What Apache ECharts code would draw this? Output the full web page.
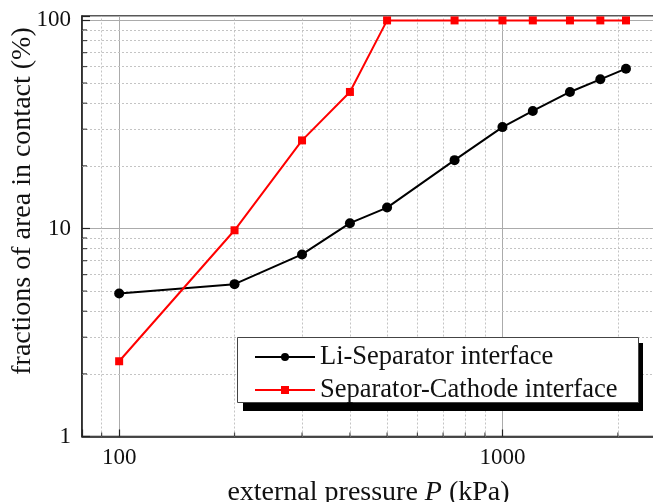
<!DOCTYPE html>
<html>
<head>
<meta charset="utf-8">
<script src="https://cdn.jsdelivr.net/npm/echarts@6/dist/echarts.min.js"></script>
<style>
  html, body { margin: 0; padding: 0; background: #fff; }
  #chart { width: 653px; height: 502px; }
</style>
</head>
<body>
<div id="chart"></div>
<script>
// External pressure (kPa)
const pressure = [100, 200, 300, 400, 500, 750, 1000, 1200, 1500, 1800, 2100];
// Fraction of area in contact (%)
const liSeparator = [4.87, 5.4, 7.5, 10.6, 12.6, 21.3, 30.7, 36.7, 45.3, 52.1, 58.6];
const separatorCathode = [2.3, 9.8, 26.5, 45.3, 100, 100, 100, 100, 100, 100, 100];

const seriesNames = ['Li-Separator interface', 'Separator-Cathode interface'];

// Axis ranges and minor tick positions
const xRange = [80, 2500];
const yRange = [1, 105];
const xMinorTicks = [90, 200, 300, 400, 500, 600, 700, 800, 900, 2000];
const yMinorTicks = [2, 3, 4, 5, 6, 7, 8, 9, 20, 30, 40, 50, 60, 70, 80, 90];

const FONT = '"Liberation Serif", "Times New Roman", serif';
const INK = '#111';

const pairs = (xs, ys) => xs.map((x, i) => [x, ys[i]]);
const isDecade = v => Math.abs(Math.log10(v) - Math.round(Math.log10(v))) < 1e-6;

const chart = echarts.init(document.getElementById('chart'), null, { renderer: 'canvas' });

chart.setOption({
  animation: false,
  backgroundColor: '#fff',
  grid: {
    left: 82, right: -2, top: 16, bottom: 65.5,
    show: true, borderColor: '#222', borderWidth: 1.5,
    containLabel: false, outerBoundsMode: 'none'
  },
  xAxis: {
    type: 'log', logBase: 10, min: xRange[0], max: xRange[1],
    name: 'external pressure {i|P} (kPa)',
    nameLocation: 'middle', nameGap: 42,
    nameTextStyle: {
      fontFamily: FONT, fontSize: 28, color: INK,
      rich: { i: { fontFamily: FONT, fontSize: 28, fontStyle: 'italic', color: INK } }
    },
    axisLine: { show: true, lineStyle: { color: '#222', width: 1.5 } },
    axisTick: { show: true, inside: true, length: 7, lineStyle: { color: '#222', width: 1.2 } },
    axisLabel: {
      fontFamily: FONT, fontSize: 23, color: INK, margin: 10,
      formatter: v => (isDecade(v) ? String(Math.round(v)) : '')
    },
    splitLine: { show: true, lineStyle: { color: '#ababab', width: 1 } },
    minorTick: { show: false }, minorSplitLine: { show: false }
  },
  yAxis: {
    type: 'log', logBase: 10, min: yRange[0], max: yRange[1],
    axisLine: { show: true, lineStyle: { color: '#222', width: 1.5 } },
    axisTick: { show: true, inside: true, length: 8, lineStyle: { color: '#222', width: 1.2 } },
    axisLabel: {
      fontFamily: FONT, fontSize: 23, color: INK, margin: 11,
      formatter: v => (isDecade(v) ? String(Math.round(v)) : '')
    },
    splitLine: { show: true, lineStyle: { color: '#ababab', width: 1 } },
    minorTick: { show: false }, minorSplitLine: { show: false }
  },
  legend: {
    data: seriesNames,
    orient: 'vertical',
    left: 254, top: 342,
    padding: 0,
    itemWidth: 60, itemHeight: 10, itemGap: 3,
    backgroundColor: 'transparent',
    borderWidth: 0,
    textStyle: { fontFamily: FONT, fontSize: 26.5, color: INK, lineHeight: 30 },
    z: 10
  },
  graphic: [
    // legend frame with its drop shadow
    { type: 'rect', z: 8, silent: true,
      shape: { x: 243, y: 343, width: 400, height: 68 },
      style: { fill: '#000' } },
    { type: 'rect', z: 9, silent: true,
      shape: { x: 237.5, y: 337.5, width: 401, height: 65 },
      style: { fill: '#fff', stroke: '#444', lineWidth: 1 } },
    // y axis title
    { type: 'text', z: 10, silent: true,
      x: 23, y: 201, rotation: Math.PI / 2,
      style: {
        text: 'fractions of area in contact (%)',
        font: '28px ' + FONT, fill: INK,
        align: 'center', verticalAlign: 'middle',
        textAlign: 'center', textVerticalAlign: 'middle'
      } }
  ],
  series: [
    // minor grid: dotted lines and short inward ticks
    {
      name: 'minorGrid', type: 'line', data: [], silent: true, z: 1,
      markLine: {
        silent: true, symbol: 'none', z: 1, animation: false,
        label: { show: false },
        lineStyle: { color: '#c4c4c4', width: 1, type: [2, 2] },
        data: xMinorTicks.map(v => ({ xAxis: v })).concat(yMinorTicks.map(v => ({ yAxis: v })))
      }
    },
    {
      name: 'xMinorTicks', type: 'scatter', silent: true, z: 3, clip: false,
      symbol: 'rect', symbolSize: [1.2, 4], symbolOffset: [0, -2],
      itemStyle: { color: '#222' },
      data: xMinorTicks.map(v => [v, yRange[0]])
    },
    {
      name: 'yMinorTicks', type: 'scatter', silent: true, z: 3, clip: false,
      symbol: 'rect', symbolSize: [5, 1.2], symbolOffset: [2.5, 0],
      itemStyle: { color: '#222' },
      data: yMinorTicks.map(v => [xRange[0], v])
    },
    {
      name: seriesNames[0], type: 'line', z: 5,
      data: pairs(pressure, liSeparator),
      symbol: 'circle', symbolSize: 10, showAllSymbol: true,
      lineStyle: { color: '#000', width: 2 },
      itemStyle: { color: '#000' }
    },
    {
      name: seriesNames[1], type: 'line', z: 6,
      data: pairs(pressure, separatorCathode),
      symbol: 'rect', symbolSize: 8, showAllSymbol: true,
      lineStyle: { color: '#ff0000', width: 2 },
      itemStyle: { color: '#ff0000' }
    }
  ]
});
</script>
</body>
</html>
